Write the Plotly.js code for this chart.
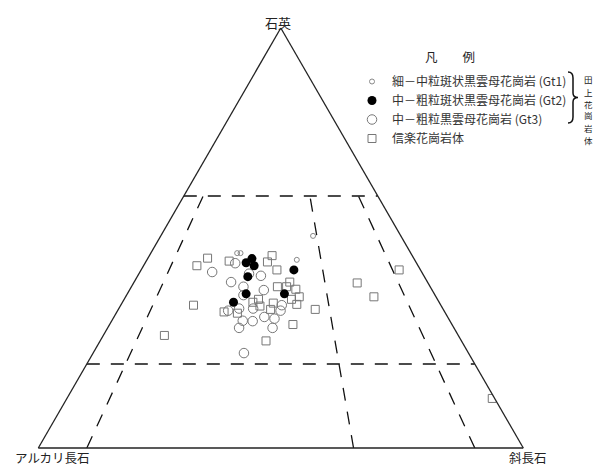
<!DOCTYPE html>
<html>
<head>
<meta charset="utf-8">
<script src="https://cdn.plot.ly/plotly-3.0.1.min.js"></script>
<style>
  html, body { margin: 0; padding: 0; background: #fff; }
  #chart { width: 594px; height: 467px; }
</style>
</head>
<body>
<div id="chart"></div>
<script>
// Modal composition (Q = 石英, A = アルカリ長石, P = 斜長石), percent of Q+A+P

// 細－中粒斑状黒雲母花崗岩 (Gt1)
const gt1Q = [46.4, 46.4, 44.8, 50.5];
const gt1A = [35.8, 35.1, 24.3, 18.1];
const gt1P = [17.8, 18.5, 30.9, 31.4];

// 中－粗粒斑状黒雲母花崗岩 (Gt2)
const gt2Q = [45.1, 44.1, 43.4, 40.8, 42.4, 36.7, 36.7, 34.7];
const gt2A = [33.4, 35.1, 33.8, 36.4, 26.1, 38.8, 30.9, 42.4];
const gt2P = [21.5, 20.8, 22.8, 22.8, 31.5, 24.5, 32.4, 22.9];

// 中－粗粒黒雲母花崗岩 (Gt3)
const gt3Q = [44.0, 41.9, 39.5, 41.0, 41.5, 38.4, 37.6, 36.4, 33.2, 32.7,
              33.2, 34.0, 32.7, 30.3, 30.2, 31.2, 30.8, 28.6, 28.6, 22.6];
const gt3A = [37.4, 43.2, 40.5, 33.6, 35.8, 38.5, 34.7, 39.5, 42.0, 44.5,
              39.1, 32.8, 33.7, 42.7, 40.7, 37.8, 35.9, 44.3, 37.4, 46.3];
const gt3P = [18.6, 14.9, 20.0, 25.4, 22.7, 23.1, 27.7, 24.1, 24.8, 22.8,
              27.7, 33.2, 33.6, 27.0, 29.1, 31.0, 33.3, 27.1, 34.0, 31.1];

// 信楽花崗岩体
const shgQ = [43.4, 45.2, 44.5, 45.8, 44.3, 42.4, 39.5, 38.4, 38.4, 37.8,
              36.0, 35.4, 34.2, 33.0, 35.4, 34.7, 33.8, 33.0, 34.5, 32.1,
              32.4, 34.0, 26.8, 25.5, 29.4, 39.3, 36.0, 42.4, 11.8];
const shgA = [45.6, 42.5, 38.4, 28.9, 30.6, 29.6, 28.4, 31.5, 29.6, 28.0,
              28.2, 30.1, 29.6, 26.4, 36.9, 38.4, 37.4, 35.6, 34.3, 42.9,
              45.5, 51.0, 60.6, 40.3, 32.8, 14.6, 12.8, 4.4, 0.5];
const shgP = [11.0, 12.3, 17.1, 25.3, 25.1, 28.0, 32.1, 30.1, 32.0, 34.2,
              35.8, 34.5, 36.2, 40.6, 27.7, 26.9, 28.8, 31.4, 31.2, 25.0,
              22.1, 15.0, 12.6, 34.2, 37.8, 46.1, 51.2, 53.2, 87.7];

// Field boundaries: Q = 60 and Q = 20, and P/(A+P) = 10, 65, 90 % up to Q = 60
const bndQ = [[60, 60], [20, 20], [0, 60], [0, 60], [0, 60]];
const bndA = [[40, 0], [80, 0], [90, 36], [35, 14], [10, 4]];
const bndP = [[0, 40], [0, 80], [10, 4], [65, 26], [90, 36]];

const legendNames = [
  '細－中粒斑状黒雲母花崗岩 (Gt1)',
  '中－粗粒斑状黒雲母花崗岩 (Gt2)',
  '中－粗粒黒雲母花崗岩 (Gt3)',
  '信楽花崗岩体'
];

const W = 594, H = 467;
const px = x => x / W;
const py = y => 1 - y / H;
const JP = '"Noto Sans CJK JP", "Noto Sans", sans-serif';

const traces = [];

bndQ.forEach((q, i) => {
  traces.push({
    type: 'scatterternary', mode: 'lines',
    a: q, b: bndA[i], c: bndP[i],
    line: { color: '#111', width: 1.3, dash: '13px,11px' },
    showlegend: false, hoverinfo: 'skip'
  });
});

traces.push({
  type: 'scatterternary', mode: 'markers', name: legendNames[3], legendrank: 4,
  a: shgQ, b: shgA, c: shgP,
  marker: { symbol: 'square-open', size: 8, color: '#777', line: { width: 1 } }
});
traces.push({
  type: 'scatterternary', mode: 'markers', name: legendNames[2], legendrank: 3,
  a: gt3Q, b: gt3A, c: gt3P,
  marker: { symbol: 'circle-open', size: 9.5, color: '#777', line: { width: 1 } }
});
traces.push({
  type: 'scatterternary', mode: 'markers', name: legendNames[1], legendrank: 2,
  a: gt2Q, b: gt2A, c: gt2P,
  marker: { symbol: 'circle', size: 9, color: '#000' }
});
traces.push({
  type: 'scatterternary', mode: 'markers', name: legendNames[0], legendrank: 1,
  a: gt1Q, b: gt1A, c: gt1P,
  marker: { symbol: 'circle-open', size: 5, color: '#888', line: { width: 1 } }
});

const hiddenAxis = {
  showticklabels: false, ticks: '', showgrid: false,
  showline: true, linecolor: '#222', linewidth: 1.3, title: { text: '' }
};

const labels = [
  { text: '石英', x: px(278), y: py(22) },
  { text: 'アルカリ長石', x: px(52), y: py(457.5), size: 12.5 },
  { text: '斜長石', x: px(528), y: py(457.5), size: 12.5 },
  { text: '凡　　例', x: px(450), y: py(56), size: 12.5 }
];
// vertical group label beside the brace, stacked one character at a time
const groupLabel = '田上花崗岩体';
Array.from(groupLabel).forEach((ch, i) => {
  labels.push({ text: ch, x: px(588), y: py(79.5 + i * 12), size: 8.5 });
});
const annotations = labels.map(o => ({
  text: o.text, x: o.x, y: o.y, xref: 'paper', yref: 'paper',
  xanchor: 'center', yanchor: 'middle', showarrow: false, borderpad: 0,
  font: { family: JP, size: o.size || 13, color: '#222' }
}));

// curly brace grouping Gt1–Gt3
const bx = [568, 573, 578], by = [72, 78, 93, 97.5, 102, 117, 123];
const bracePath =
  `M ${px(bx[0])} ${py(by[0])} Q ${px(bx[1])} ${py(by[0])} ${px(bx[1])} ${py(by[1])} ` +
  `L ${px(bx[1])} ${py(by[2])} Q ${px(bx[1])} ${py(by[3])} ${px(bx[2])} ${py(by[3])} ` +
  `Q ${px(bx[1])} ${py(by[3])} ${px(bx[1])} ${py(by[4])} ` +
  `L ${px(bx[1])} ${py(by[5])} Q ${px(bx[1])} ${py(by[6])} ${px(bx[0])} ${py(by[6])}`;

const layout = {
  width: W, height: H,
  margin: { l: 0, r: 0, t: 0, b: 0 },
  paper_bgcolor: '#fff',
  font: { family: JP, color: '#222' },
  showlegend: true,
  legend: {
    x: px(352), y: py(67), xanchor: 'left', yanchor: 'top',
    font: { family: JP, size: 12, color: '#333' },
    bgcolor: 'rgba(0,0,0,0)', tracegroupgap: 0, itemsizing: 'trace'
  },
  ternary: {
    sum: 100,
    domain: { x: [px(38.3), px(523.3)], y: [py(448), py(28)] },
    bgcolor: '#fff',
    aaxis: hiddenAxis, baxis: hiddenAxis, caxis: hiddenAxis
  },
  annotations: annotations,
  shapes: [{
    type: 'path', xref: 'paper', yref: 'paper', path: bracePath,
    line: { color: '#111', width: 1.5 }
  }]
};

Plotly.newPlot('chart', traces, layout, { staticPlot: true, displayModeBar: false });
</script>
</body>
</html>
